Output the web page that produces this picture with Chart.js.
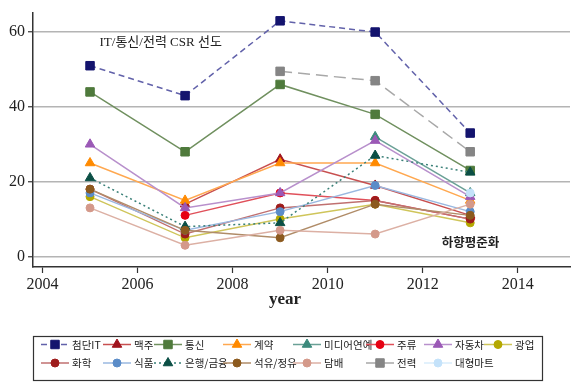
<!DOCTYPE html>
<html>
<head>
<meta charset="utf-8">
<script src="https://cdn.jsdelivr.net/npm/chart.js@4"></script>
<style>
    html, body { margin: 0; padding: 0; background: #fff; }
    #wrap { width: 580px; height: 387px; }
</style>
</head>
<body>
<div id="wrap">
    <canvas id="csr-chart" width="580" height="387"></canvas>
</div>

<script>
    // survey years
    const years = [2005, 2007, 2009, 2011, 2013];

    // series (null = not surveyed)
    const seriesNames = ['첨단IT', '맥주', '통신', '계약', '미디어연예', '주류', '자동차', '광업',
        '화학', '식품', '은행/금융', '석유/정유', '담배', '전력', '대형마트'];
    const hiTech = [51, 43, 63, 60, 33];
    const beer = [null, 14, 26, 19, 11];
    const telecom = [44, 28, 46, 38, 23];
    const contract = [25, 15, 25, 25, 15];
    const media = [null, null, null, 32, 17];
    const liquor = [null, 11, 17, 15, 10];
    const auto = [30, 13, 17, 31, 16];
    const mining = [16, 5, 10, 14, 9];
    const chemical = [18, 6, 13, 15, 10];
    const food = [17, 7, 12, 19, 12];
    const banking = [21, 8, 9, 27, 22.5];
    const oil = [18, 7, 5, 14, 11];
    const tobacco = [13, 3, 7, 6, 14];
    const power = [null, null, 49.5, 47, 28];
    const mart = [null, null, null, null, 17];

    const yTicks = [0, 20, 40, 60];
    const xTicks = [2004, 2006, 2008, 2010, 2012, 2014];

    const seriesValues = [hiTech, beer, telecom, contract, media, liquor, auto, mining,
        chemical, food, banking, oil, tobacco, power, mart];

    // marker colour, line colour, point style, dash
    const styles = [
        ['#14146e', '#6262aa', 'rect', [6, 4]],
        ['#a0141e', '#c85050', 'triangle', []],
        ['#4f7a3c', '#70905f', 'rect', []],
        ['#ff8a00', '#ffa850', 'triangle', []],
        ['#3c8a7c', '#6aa096', 'triangle', []],
        ['#e60012', '#e0505a', 'circle', []],
        ['#9b59b6', '#b890cc', 'triangle', []],
        ['#b4a800', '#cfc55a', 'circle', []],
        ['#9e1c1c', '#c07070', 'circle', []],
        ['#5b8cc8', '#9ab8e0', 'circle', []],
        ['#0b4f45', '#3a8078', 'triangle', [2, 3]],
        ['#8c5a1e', '#b08c68', 'circle', []],
        ['#d4998a', '#dcb0a4', 'circle', []],
        ['#858585', '#a8a8a8', 'rect', [12, 6]],
        ['#c4e2fa', '#d8ecfb', 'circle', []]
    ];

    function radiusFor(style) {
        if (style === 'rect') return 6;
        if (style === 'triangle') return 5.5;
        return 4;
    }

    const datasets = seriesNames.map((name, i) => {
        const [marker, line, pointStyle, dash] = styles[i];
        return {
            label: name,
            data: years.map((yr, j) => ({x: yr, y: seriesValues[i][j]})),
            borderColor: line,
            borderWidth: 1.5,
            borderDash: dash,
            backgroundColor: marker,
            pointBackgroundColor: marker,
            pointBorderColor: marker,
            pointBorderWidth: 1,
            pointStyle: pointStyle,
            pointRadius: radiusFor(pointStyle),
            tension: 0,
            spanGaps: false,
            order: -i
        };
    });

    const serif = "'Liberation Serif', 'Noto Sans CJK KR', serif";

    // text notes + grid legend under the plot
    const notesAndLegend = {
        id: 'notesAndLegend',
        afterDraw(chart) {
            const ctx = chart.ctx;
            const xs = chart.scales.x, ys = chart.scales.y;
            ctx.save();
            ctx.fillStyle = '#222';
            ctx.textBaseline = 'middle';
            ctx.font = "13px " + serif;
            ctx.textAlign = 'left';
            ctx.fillText('IT/통신/전력 CSR 선도', xs.getPixelForValue(2005.2), ys.getPixelForValue(57.3));
            ctx.font = "bold 12.5px " + serif;
            ctx.fillText('하향평준화', xs.getPixelForValue(2012.4), ys.getPixelForValue(3.4));
            ctx.font = "bold 17px " + serif;
            ctx.textAlign = 'center';
            ctx.fillText('year', 285, 300);

            // legend box
            ctx.strokeStyle = '#333';
            ctx.lineWidth = 1.2;
            ctx.strokeRect(33.5, 336.5, 509, 44);
            const cols = [55, 117, 168, 237, 307, 380, 438, 498];
            const rows = [344.5, 363];
            ctx.font = "10.5px 'Noto Sans CJK KR', sans-serif";
            ctx.textAlign = 'left';
            chart.data.datasets.forEach((ds, i) => {
                const cx = cols[i % 8], cy = rows[Math.floor(i / 8)];
                ctx.save();
                ctx.strokeStyle = ds.borderColor;
                ctx.lineWidth = 1.5;
                ctx.setLineDash(ds.borderDash);
                ctx.beginPath();
                ctx.moveTo(cx - 14, cy);
                ctx.lineTo(cx + 14, cy);
                ctx.stroke();
                ctx.restore();
                ctx.save();
                ctx.fillStyle = ds.pointBackgroundColor;
                ctx.strokeStyle = ds.pointBorderColor;
                ctx.lineWidth = 1;
                Chart.helpers.drawPoint(ctx, {
                    pointStyle: ds.pointStyle, radius: ds.pointRadius, borderWidth: 1, rotation: 0
                }, cx, cy);
                ctx.restore();
                ctx.fillStyle = '#222';
                ctx.fillText(ds.label, cx + 17, cy + 0.5);
            });
            ctx.restore();
        }
    };

    new Chart(document.getElementById('csr-chart').getContext('2d'), {
        type: 'line',
        data: {datasets: datasets},
        options: {
            responsive: false,
            animation: false,
            layout: {padding: {left: 0, right: 10, top: 9, bottom: 57}},
            plugins: {
                legend: {display: false},
                tooltip: {enabled: false}
            },
            scales: {
                x: {
                    type: 'linear',
                    min: 2003.8,
                    max: 2015.1,
                    afterFit: scale => { scale.height = 63; },
                    afterBuildTicks: scale => { scale.ticks = xTicks.map(v => ({value: v})); },
                    ticks: {
                        callback: v => String(v),
                        color: '#222',
                        font: {family: serif, size: 16},
                        padding: 2,
                        maxRotation: 0
                    },
                    grid: {drawOnChartArea: false, drawTicks: true, tickLength: 6, tickColor: '#333', tickWidth: 1.2},
                    border: {color: '#333', width: 1.5}
                },
                y: {
                    min: -2.8,
                    max: 65.2,
                    afterFit: scale => { scale.width = 33; },
                    afterBuildTicks: scale => { scale.ticks = yTicks.map(v => ({value: v})); },
                    ticks: {
                        color: '#222',
                        font: {family: serif, size: 16},
                        padding: 3
                    },
                    grid: {color: '#b4b4b4', lineWidth: 1.5, drawTicks: true, tickLength: 5, tickColor: '#333', tickWidth: 1.2},
                    border: {color: '#333', width: 1.5}
                }
            }
        },
        plugins: [notesAndLegend]
    });
</script>
</body>
</html>
